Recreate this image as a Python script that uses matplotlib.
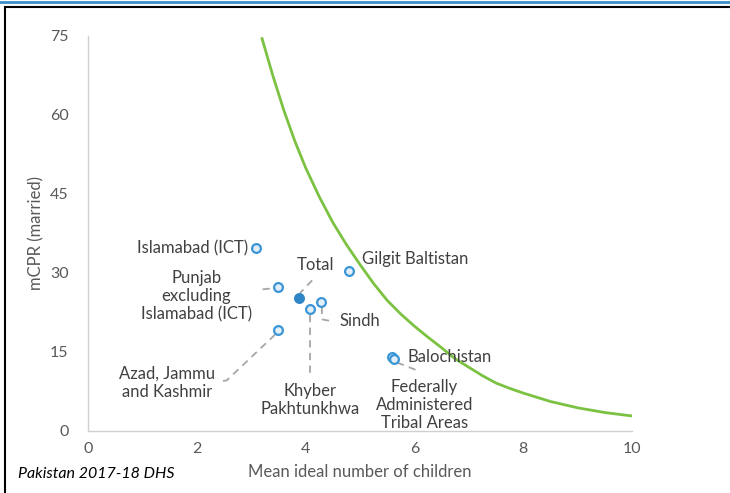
import matplotlib.pyplot as plt
from matplotlib.patches import Rectangle
from matplotlib.lines import Line2D

plt.rcParams["font.family"] = ["Lato", "DejaVu Sans"]

# Regions: mean ideal number of children vs mCPR (married)
regions = ["Islamabad (ICT)", "Gilgit Baltistan", "Punjab excluding Islamabad (ICT)",
           "Sindh", "Khyber Pakhtunkhwa", "Azad, Jammu and Kashmir",
           "Balochistan", "Federally Administered Tribal Areas"]
ideal_children = [3.09, 4.80, 3.49, 4.28, 4.08, 3.49, 5.58, 5.62]
mcpr = [34.7, 30.4, 27.3, 24.5, 23.1, 19.2, 14.0, 13.7]

total_x = 3.88
total_y = 25.2

# Green reference curve
curve_x = [3.2, 3.4, 3.6, 3.8, 4.0, 4.25, 4.5, 4.75, 5.0, 5.25, 5.5, 5.75, 6.0, 6.25,
           6.5, 6.75, 7.0, 7.25, 7.5, 7.75, 8.0, 8.25, 8.5, 9.0, 9.5, 10.0]
curve_y = [74.5, 67.4, 60.9, 55.1, 50.0, 44.5, 39.6, 35.4, 31.6, 28.0, 24.8, 22.2, 19.9, 17.8,
           15.8, 13.7, 12.1, 10.5, 9.1, 8.1, 7.2, 6.4, 5.6, 4.4, 3.5, 2.85]

# label text, text position, alignment, leader line points
labels = [
    ("Islamabad (ICT)", (2.94, 34.7), "right", None),
    ("Gilgit Baltistan", (5.04, 32.6), "left", None),
    ("Total", (4.19, 31.5), "center", [(4.12, 28.6), (3.90, 26.2)]),
    ("Punjab\nexcluding\nIslamabad (ICT)", (1.99, 25.6), "center", [(3.21, 26.9), (3.42, 27.1)]),
    ("Sindh", (4.63, 20.9), "left", [(4.30, 23.6), (4.30, 21.2), (4.45, 20.9)]),
    ("Khyber\nPakhtunkhwa", (4.08, 5.9), "center", [(4.08, 22.1), (4.08, 10.3)]),
    ("Azad, Jammu\nand Kashmir", (1.45, 9.2), "center", [(3.44, 18.3), (2.55, 9.6), (2.40, 9.4)]),
    ("Balochistan", (5.88, 14.0), "left", None),
    ("Federally\nAdministered\nTribal Areas", (6.18, 4.9), "center", [(5.68, 13.0), (6.05, 11.5)]),
]

fig = plt.figure(figsize=(7.3, 4.93), dpi=100)
ax = fig.add_axes([0.1205, 0.1258, 0.7453, 0.8012])

ax.plot(curve_x, curve_y, color="#7cc242", linewidth=2, zorder=2)

ax.scatter(ideal_children, mcpr, s=40, facecolor="#e3eef8", edgecolor="#3a96d6",
           linewidth=1.6, zorder=4)
ax.scatter([total_x], [total_y], s=45, facecolor="#2f86c6", edgecolor="#2f86c6",
           linewidth=1.2, zorder=4)

for text, (tx, ty), ha, leader in labels:
    ax.text(tx, ty, text, ha=ha, va="center", fontsize=12, color="#404040",
            linespacing=1.15, zorder=5)
    if leader:
        lx = [p[0] for p in leader]
        ly = [p[1] for p in leader]
        ax.plot(lx, ly, color="#a6a6a6", linewidth=1.3, linestyle=(0, (4, 3)), zorder=3)

ax.set_xlim(0, 10)
ax.set_ylim(0, 75)
ax.set_xticks([0, 2, 4, 6, 8, 10])
ax.set_yticks([0, 15, 30, 45, 60, 75])
ax.tick_params(length=0, labelsize=11.5, labelcolor="#595959", pad=8)
ax.tick_params(axis="y", pad=14)
for side in ["top", "right"]:
    ax.spines[side].set_visible(False)
for side in ["left", "bottom"]:
    ax.spines[side].set_color("#d0d0d0")
    ax.spines[side].set_linewidth(1)

ax.set_xlabel("Mean ideal number of children", fontsize=12, color="#595959", labelpad=6)
ax.set_ylabel("mCPR (married)", fontsize=12, color="#595959", labelpad=4)

fig.text(18 / 730, 1 - 474 / 493, "Pakistan 2017-18 DHS", fontsize=11.5, style="italic",
         color="black", ha="left", va="center")

# frame and top rule
fig.add_artist(Rectangle((5 / 730, -0.01), 1.0, 1 - 7 / 493 + 0.01, transform=fig.transFigure,
                         fill=False, edgecolor="black", linewidth=1.5))
fig.add_artist(Line2D([0, 1], [1 - 2 / 493, 1 - 2 / 493], transform=fig.transFigure,
                      color="#3a8fc8", linewidth=2))

fig.savefig("out.png", dpi=100)
